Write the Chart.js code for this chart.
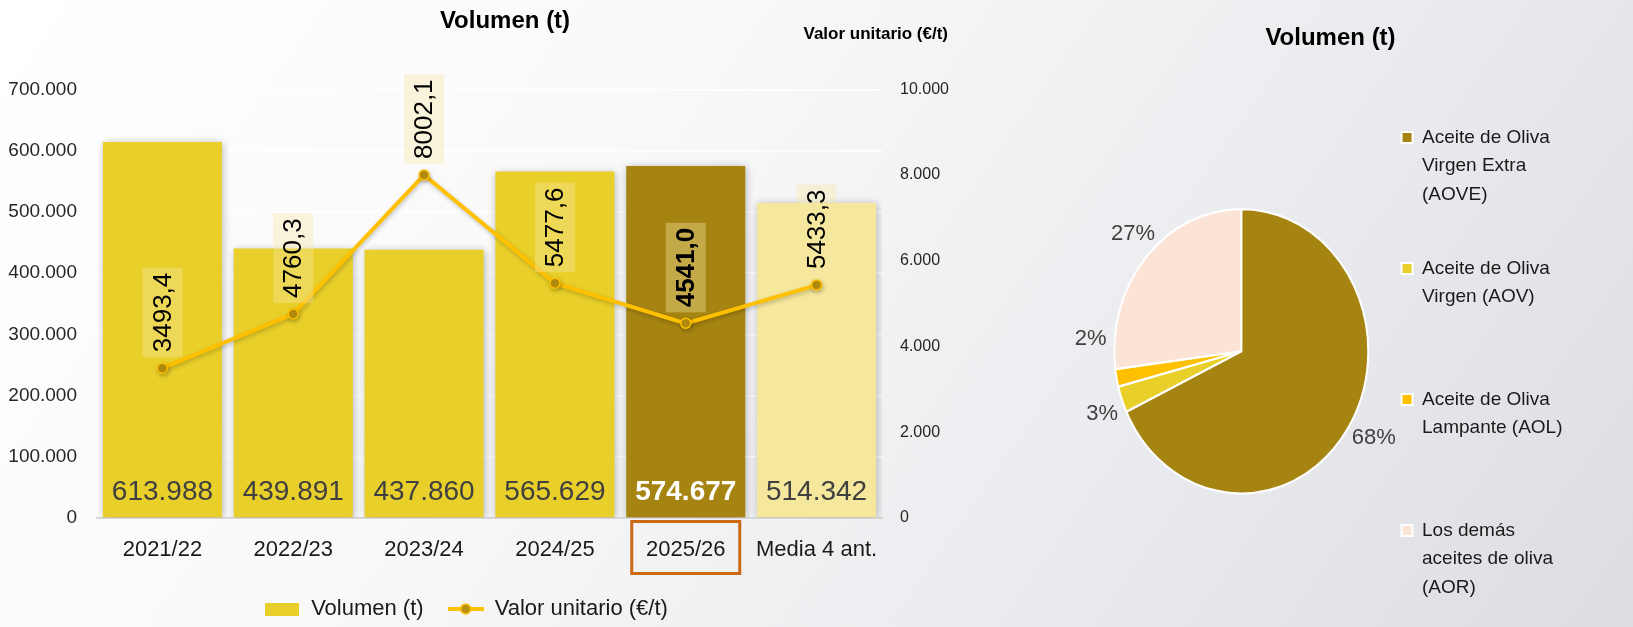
<!DOCTYPE html>
<html lang="es">
<head>
<meta charset="utf-8">
<title>Volumen y valor unitario</title>
<script src="https://cdn.jsdelivr.net/npm/chart.js@4.4.1/dist/chart.umd.min.js"></script>
<style>
  html, body { margin: 0; padding: 0; width: 1633px; height: 627px; overflow: hidden; }
  body { background: linear-gradient(125deg, #ffffff 0%, #f9f9fa 35%, #eaebee 70%, #dcdde1 100%); }
  #barWrap { position: absolute; left: 0; top: 0; width: 1010px; height: 630px; }
  #pieWrap { position: absolute; left: 1031px; top: 0; width: 602px; height: 652px; }
</style>
</head>
<body>
<div id="barWrap"><canvas id="volumeChart"></canvas></div>
<div id="pieWrap"><canvas id="shareChart"></canvas></div>
<script>
// --- data ---
const campaigns = ['2021/22', '2022/23', '2023/24', '2024/25', '2025/26', 'Media 4 ant.'];
const volumen = [613988, 439891, 437860, 565629, 574677, 514342];
const valorUnitario = [3493.4, 4760.3, 8002.1, 5477.6, 4541.0, 5433.3];
const volumenTicks = [0, 100000, 200000, 300000, 400000, 500000, 600000, 700000];
const valorTicks = [0, 2000, 4000, 6000, 8000, 10000];
const currentIndex = 4; // 2025/26, highlighted

const oilTypes = [
    ['Aceite de Oliva', 'Virgen Extra', '(AOVE)'],
    ['Aceite de Oliva', 'Virgen (AOV)'],
    ['Aceite de Oliva', 'Lampante (AOL)'],
    ['Los demás', 'aceites de oliva', '(AOR)']
];
const oilShares = [68, 3, 2, 27];

const FONT = '"Liberation Sans", Arial, sans-serif';
Chart.defaults.font.family = FONT;
Chart.defaults.color = '#262626';

const fmtThousands = v => String(Math.round(v)).replace(/\B(?=(\d{3})+(?!\d))/g, '.');
const fmtDecimal = v => v.toFixed(1).replace('.', ',');

const barColors = campaigns.map((c, i) =>
    i === currentIndex ? '#A68412' : (i === campaigns.length - 1 ? '#F5E79B' : '#E9CF29'));
const pieColors = ['#A68412', '#E9CF29', '#FFC000', '#FBE3D6'];

// little legend symbols
function makeSwatch(w, h, draw) {
    const c = document.createElement('canvas');
    c.width = w;
    c.height = h;
    draw(c.getContext('2d'));
    return c;
}
const barSwatch = makeSwatch(34, 13, g => {
    g.fillStyle = '#E9CF29';
    g.fillRect(0, 0, 34, 13);
});
const lineSwatch = makeSwatch(36, 14, g => {
    g.strokeStyle = '#FFC000';
    g.lineWidth = 4;
    g.beginPath();
    g.moveTo(0, 7);
    g.lineTo(36, 7);
    g.stroke();
    g.beginPath();
    g.arc(18, 7, 5, 0, Math.PI * 2);
    g.fillStyle = '#B8900B';
    g.fill();
    g.lineWidth = 1.5;
    g.stroke();
});

// soft shadows under bars and line
const shadowPlugin = {
    id: 'softShadow',
    beforeDatasetDraw(chart, args) {
        const ctx = chart.ctx;
        ctx.save();
        if (args.meta.type === 'bar') {
            ctx.shadowColor = 'rgba(0,0,0,0.28)';
            ctx.shadowBlur = 8;
            ctx.shadowOffsetX = 1;
            ctx.shadowOffsetY = 1;
        } else {
            ctx.shadowColor = 'rgba(0,0,0,0.22)';
            ctx.shadowBlur = 4;
            ctx.shadowOffsetX = 1;
            ctx.shadowOffsetY = 2;
        }
    },
    afterDatasetDraw(chart) {
        chart.ctx.restore();
    }
};

// value labels, right axis header and the box round the current campaign
const labelPlugin = {
    id: 'valueLabels',
    afterLayout(chart) {
        // legend sits a bit left of the canvas centre in the original
        chart.legend.left -= 39;
        chart.legend.right -= 39;
    },
    afterDatasetsDraw(chart) {
        const ctx = chart.ctx;
        const bars = chart.getDatasetMeta(0).data;
        const points = chart.getDatasetMeta(1).data;
        ctx.save();
        ctx.textAlign = 'center';
        ctx.textBaseline = 'middle';
        bars.forEach((bar, i) => {
            const cur = i === currentIndex;
            ctx.font = (cur ? 'bold ' : '') + '28px ' + FONT;
            ctx.fillStyle = cur ? '#ffffff' : '#404040';
            ctx.fillText(fmtThousands(volumen[i]), bar.x, bar.base - 25);
        });
        points.forEach((pt, i) => {
            const cur = i === currentIndex;
            const text = fmtDecimal(valorUnitario[i]);
            ctx.font = (cur ? 'bold ' : '') + '26px ' + FONT;
            const len = ctx.measureText(text).width + 10;
            const thick = 40;
            const bottom = pt.y - 11;
            ctx.fillStyle = 'rgba(244,231,163,0.38)';
            ctx.fillRect(pt.x - thick / 2, bottom - len, thick, len);
            ctx.save();
            ctx.translate(pt.x + 1, bottom - len / 2);
            ctx.rotate(-Math.PI / 2);
            ctx.fillStyle = '#000000';
            ctx.fillText(text, 0, 0);
            ctx.restore();
        });
        ctx.restore();
    },
    afterDraw(chart) {
        const {ctx, chartArea, scales} = chart;
        ctx.save();
        ctx.font = 'bold 17px ' + FONT;
        ctx.fillStyle = '#000000';
        ctx.textAlign = 'right';
        ctx.textBaseline = 'middle';
        ctx.fillText('Valor unitario (€/t)', chartArea.right + 66, chartArea.top - 55);
        const cx = scales.x.getPixelForValue(currentIndex);
        ctx.strokeStyle = '#CC6A14';
        ctx.lineWidth = 3;
        ctx.strokeRect(cx - 54, chartArea.bottom + 3.5, 108, 52);
        ctx.restore();
    }
};

new Chart(document.getElementById('volumeChart'), {
    data: {
        labels: campaigns,
        datasets: [{
            type: 'bar',
            label: 'Volumen (t)',
            data: volumen,
            yAxisID: 'y',
            backgroundColor: barColors,
            borderWidth: 0,
            barPercentage: 1,
            categoryPercentage: 0.91,
            order: 2
        }, {
            type: 'line',
            label: 'Valor unitario (€/t)',
            data: valorUnitario,
            yAxisID: 'y1',
            borderColor: '#FFC000',
            borderWidth: 4,
            pointRadius: 5,
            pointBackgroundColor: '#B8900B',
            pointBorderColor: '#FFC000',
            pointBorderWidth: 1.5,
            tension: 0,
            order: 1
        }]
    },
    options: {
        responsive: true,
        maintainAspectRatio: false,
        animation: false,
        layout: { padding: { left: 8, right: 8, top: 0, bottom: 0 } },
        plugins: {
            title: {
                display: true,
                text: 'Volumen (t)',
                color: '#000000',
                font: { size: 24, weight: 'bold' },
                padding: { top: 6.5, bottom: 54 }
            },
            legend: {
                position: 'bottom',
                labels: {
                    usePointStyle: true,
                    pointStyleWidth: 36,
                    padding: 24,
                    color: '#1a1a1a',
                    font: { size: 22 },
                    sort: (a, b) => a.datasetIndex - b.datasetIndex,
                    generateLabels(chart) {
                        const items = Chart.defaults.plugins.legend.labels.generateLabels(chart);
                        return items.map(item => ({
                            ...item,
                            pointStyle: item.datasetIndex === 0 ? barSwatch : lineSwatch
                        }));
                    }
                }
            },
            tooltip: { enabled: false }
        },
        scales: {
            x: {
                grid: { display: false, drawTicks: false },
                border: { display: true, color: '#D9D9D9', width: 2 },
                ticks: {
                    color: '#1a1a1a',
                    font: { size: 22, lineHeight: 48 / 22 },
                    padding: 8,
                    maxRotation: 0,
                    autoSkip: false
                },
                afterFit: axis => { axis.height = 56; }
            },
            y: {
                position: 'left',
                min: 0,
                max: 700000,
                afterBuildTicks: axis => { axis.ticks = volumenTicks.map(value => ({ value })); },
                afterFit: axis => { axis.width = 89; },
                grid: {
                    color: c => (c.tick && c.tick.value === 0) ? 'rgba(0,0,0,0)' : '#ffffff',
                    lineWidth: 1.5,
                    drawTicks: false
                },
                border: { display: false },
                ticks: { color: '#262626', font: { size: 19 }, padding: 20, callback: v => fmtThousands(v) }
            },
            y1: {
                position: 'right',
                min: 0,
                max: 10000,
                afterBuildTicks: axis => { axis.ticks = valorTicks.map(value => ({ value })); },
                afterFit: axis => { axis.width = 120; },
                grid: { drawOnChartArea: false, drawTicks: false },
                border: { display: false },
                ticks: { color: '#262626', font: { size: 16 }, padding: 18, callback: v => fmtThousands(v) }
            }
        }
    },
    plugins: [shadowPlugin, labelPlugin]
});

// pie: stretched a little vertically like the original, with outside % labels
const STRETCH = 1.12;
const piePlugin = {
    id: 'pieExtras',
    beforeDatasetsDraw(chart) {
        const arc = chart.getDatasetMeta(0).data[0];
        const ctx = chart.ctx;
        ctx.save();
        ctx.translate(arc.x, arc.y);
        ctx.scale(1, STRETCH);
        ctx.translate(-arc.x, -arc.y);
    },
    afterDatasetsDraw(chart) {
        const ctx = chart.ctx;
        ctx.restore();
        const values = chart.data.datasets[0].data;
        const total = values.reduce((a, b) => a + b, 0);
        const nudge = [0, -3, 15, 5]; // degrees, keeps the two small labels apart
        ctx.save();
        ctx.font = '22px ' + FONT;
        ctx.fillStyle = '#404040';
        ctx.textAlign = 'center';
        ctx.textBaseline = 'middle';
        chart.getDatasetMeta(0).data.forEach((arc, i) => {
            const mid = (arc.startAngle + arc.endAngle) / 2 + nudge[i] * Math.PI / 180;
            const text = Math.round(values[i] / total * 100) + '%';
            const w = ctx.measureText(text).width;
            const r = arc.outerRadius + 8;
            const cos = Math.cos(mid), sin = Math.sin(mid);
            ctx.fillText(text, arc.x + cos * r + cos * w / 2, arc.y + sin * r * STRETCH + sin * 11);
        });
        ctx.restore();
    }
};

new Chart(document.getElementById('shareChart'), {
    type: 'pie',
    data: {
        labels: oilTypes,
        datasets: [{
            data: oilShares,
            backgroundColor: pieColors,
            borderColor: '#ffffff',
            borderWidth: 2
        }]
    },
    options: {
        responsive: true,
        maintainAspectRatio: false,
        animation: false,
        radius: 127,
        layout: { padding: { left: 67, right: 70, top: 0, bottom: 0 } },
        plugins: {
            title: {
                display: true,
                text: 'Volumen (t)',
                color: '#000000',
                font: { size: 24, weight: 'bold', lineHeight: 1 },
                padding: { top: 26.5, bottom: 0 }
            },
            legend: {
                position: 'right',
                align: 'end',
                labels: {
                    boxWidth: 11,
                    boxHeight: 11,
                    padding: 17,
                    color: '#1a1a1a',
                    font: { size: 19, lineHeight: 1.5 },
                    generateLabels(chart) {
                        const items = Chart.overrides.pie.plugins.legend.labels.generateLabels(chart);
                        // every entry gets the same height, as in the original
                        return items.map(item => {
                            const lines = oilTypes[item.index].slice();
                            while (lines.length < 4) lines.push('');
                            return { ...item, text: lines };
                        });
                    }
                }
            },
            tooltip: { enabled: false }
        }
    },
    plugins: [piePlugin]
});
</script>
</body>
</html>
